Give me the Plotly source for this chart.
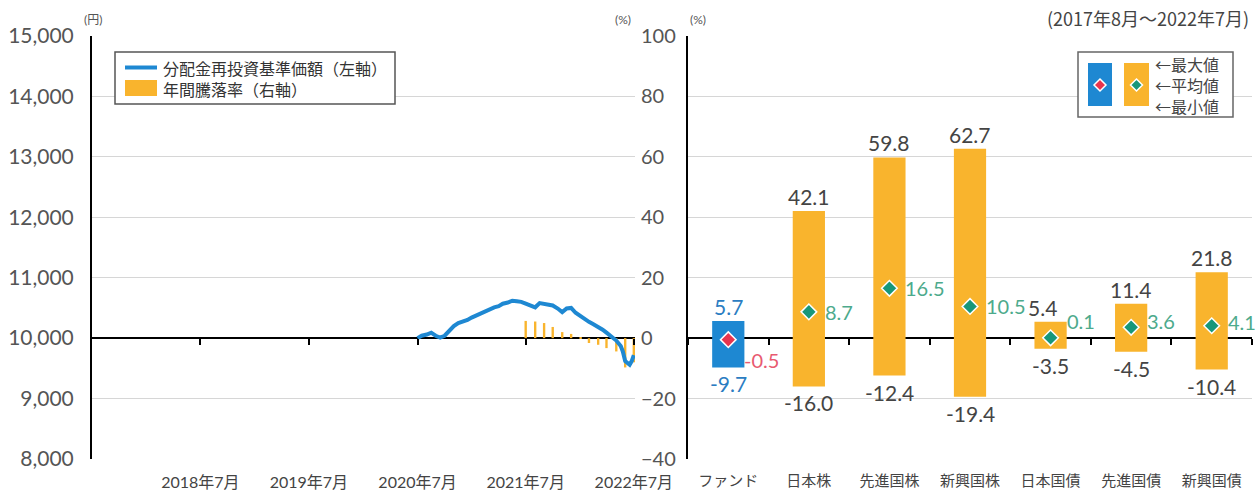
import plotly.graph_objects as go

W, H = 1259, 493
MT, MB = 36, 34
PH = H - MT - MB


def px(x):
    return x / W


def py(y):
    return (H - MB - y) / PH


# ---------------- data ----------------
nav_dates = [
    "2020-07-31", "2020-08-14", "2020-08-31", "2020-09-15", "2020-09-30", "2020-10-15",
    "2020-10-30", "2020-11-13", "2020-11-30", "2020-12-15", "2020-12-30", "2021-01-15",
    "2021-01-29", "2021-02-15", "2021-02-26", "2021-03-15", "2021-03-31", "2021-04-15",
    "2021-04-30", "2021-05-14", "2021-05-31", "2021-06-15", "2021-06-30", "2021-07-15",
    "2021-07-30", "2021-08-13", "2021-08-31", "2021-09-15", "2021-09-30", "2021-10-15",
    "2021-10-29", "2021-11-15", "2021-11-30", "2021-12-15", "2021-12-30", "2022-01-14",
    "2022-01-31", "2022-02-15", "2022-02-28", "2022-03-15", "2022-03-31", "2022-04-15",
    "2022-04-28", "2022-05-13", "2022-05-31", "2022-06-15", "2022-06-22", "2022-06-30",
    "2022-07-08", "2022-07-15", "2022-07-22", "2022-07-29",
]
nav_values = [
    10000, 10040, 10060, 10090, 10040, 10010,
    10040, 10120, 10200, 10250, 10270, 10300,
    10340, 10380, 10410, 10450, 10480, 10510,
    10530, 10570, 10590, 10620, 10610, 10600,
    10570, 10540, 10510, 10580, 10570, 10550,
    10540, 10490, 10430, 10490, 10500, 10420,
    10360, 10310, 10270, 10230, 10190, 10140,
    10090, 10040, 9960, 9870, 9780, 9620,
    9580, 9560, 9620, 9720,
]

ret_dates = [
    "2021-07-30", "2021-08-31", "2021-09-30", "2021-10-29", "2021-11-30", "2021-12-30",
    "2022-01-31", "2022-02-28", "2022-03-31", "2022-04-28", "2022-05-31", "2022-06-30",
    "2022-07-29",
]
ret_values = [5.7, 5.5, 5.0, 3.7, 2.0, 1.4, 0.3, -1.6, -2.2, -3.3, -4.4, -9.7, -8.0]

tick_dates = ["2018-07-31", "2019-07-31", "2020-07-31", "2021-07-30", "2022-07-29"]
tick_labels = ["2018年7月", "2019年7月", "2020年7月", "2021年7月", "2022年7月"]
yen_ticks = [8000, 9000, 10000, 11000, 12000, 13000, 14000, 15000]
pct_ticks = [-40, -20, 0, 20, 40, 60, 80, 100]

categories = ["ファンド", "日本株", "先進国株", "新興国株", "日本国債", "先進国債", "新興国債"]
max_vals = [5.7, 42.1, 59.8, 62.7, 5.4, 11.4, 21.8]
avg_vals = [-0.5, 8.7, 16.5, 10.5, 0.1, 3.6, 4.1]
min_vals = [-9.7, -16.0, -12.4, -19.4, -3.5, -4.5, -10.4]

legend_names = ["分配金再投資基準価額（左軸）", "年間騰落率（右軸）"]
key_names = ["←最大値", "←平均値", "←最小値"]

# ---------------- style ----------------
FONT = "Lato, 'Noto Sans CJK JP', sans-serif"
CJK = "'Noto Sans CJK JP', sans-serif"
BLUE = "#1E88D2"
ORANGE = "#F9B42D"
RED = "#E8344E"
GREEN = "#17977A"
GREEN_TXT = "#4DAA8C"
RED_TXT = "#E85A70"
BLUE_TXT = "#2B7DC2"
DARK = "#444444"
GRID = "#D6D6D6"
ZERO_POS = py(338)

max_dx = [0, 0, 0, 0, -8, 0, 0]
avg_dy = [-20, 0, 0, 0, 17, 6, 4]

fig = go.Figure()

# left chart
fig.add_trace(go.Scatter(
    x=nav_dates, y=nav_values, xaxis="x", yaxis="y3", mode="lines",
    line=dict(color=BLUE, width=4), name=legend_names[0], showlegend=False,
))
fig.add_trace(go.Bar(
    x=ret_dates, y=ret_values, xaxis="x", yaxis="y",
    marker=dict(color=ORANGE, line=dict(width=0)), width=8 * 86400000,
    name=legend_names[1], showlegend=False,
))
fig.add_trace(go.Scatter(
    x=tick_dates, y=[0] * len(tick_dates), xaxis="x3", yaxis="y", mode="markers",
    marker=dict(opacity=0), showlegend=False, hoverinfo="skip",
))

# right chart
fig.add_trace(go.Bar(
    x=categories, y=[mx - mn for mx, mn in zip(max_vals, min_vals)], base=min_vals,
    xaxis="x2", yaxis="y2", width=0.4,
    marker=dict(color=[BLUE] + [ORANGE] * (len(categories) - 1), line=dict(width=0)),
    showlegend=False,
))
fig.add_trace(go.Scatter(
    x=categories, y=avg_vals, xaxis="x2", yaxis="y2", mode="markers",
    marker=dict(symbol="diamond", size=12,
                color=[RED] + [GREEN] * (len(categories) - 1),
                line=dict(color="white", width=1.5)),
    showlegend=False,
))
fig.add_trace(go.Scatter(
    x=categories, y=[0] * len(categories), xaxis="x4", yaxis="y2", mode="markers",
    marker=dict(opacity=0), showlegend=False, hoverinfo="skip",
))

ann = []
for i, c in enumerate(categories):
    col_mm = BLUE_TXT if i == 0 else DARK
    ann.append(dict(x=c, y=max_vals[i], xref="x2", yref="y2", text=f"{max_vals[i]:.1f}",
                    showarrow=False, xanchor="center", yanchor="bottom", yshift=0,
                    xshift=max_dx[i], font=dict(size=21, color=col_mm)))
    ann.append(dict(x=c, y=min_vals[i], xref="x2", yref="y2", text=f"{min_vals[i]:.1f}",
                    showarrow=False, xanchor="center", yanchor="top", yshift=-2,
                    font=dict(size=21, color=col_mm)))
    ann.append(dict(x=c, y=avg_vals[i], xref="x2", yref="y2", text=f"{avg_vals[i]:.1f}",
                    showarrow=False, xanchor="left", yanchor="middle", xshift=14,
                    yshift=avg_dy[i],
                    font=dict(size=20, color=RED_TXT if i == 0 else GREEN_TXT)))

# units and period
ann += [
    dict(x=px(93), y=py(20), xref="paper", yref="paper", text="(円)", showarrow=False,
         xanchor="center", yanchor="middle", font=dict(size=12, color="#555")),
    dict(x=px(623), y=py(20), xref="paper", yref="paper", text="(%)", showarrow=False,
         xanchor="center", yanchor="middle", font=dict(size=12, color="#555")),
    dict(x=px(698), y=py(20), xref="paper", yref="paper", text="(%)", showarrow=False,
         xanchor="center", yanchor="middle", font=dict(size=12, color="#555")),
    dict(x=px(1251), y=py(18), xref="paper", yref="paper", text="(2017年8月～2022年7月)",
         showarrow=False, xanchor="right", yanchor="middle",
         font=dict(size=18, color=DARK, family=CJK)),
]

# legend of the left chart (box, swatches, labels)
shapes = [
    dict(type="rect", xref="paper", yref="paper", x0=px(115), x1=px(395),
         y0=py(104), y1=py(52), line=dict(color="#555", width=1.5), fillcolor="white",
         layer="above"),
    dict(type="line", xref="paper", yref="paper", x0=px(125), x1=px(157),
         y0=py(67.5), y1=py(67.5), line=dict(color=BLUE, width=4), layer="above"),
    dict(type="rect", xref="paper", yref="paper", x0=px(125), x1=px(157),
         y0=py(96), y1=py(80), line=dict(width=0), fillcolor=ORANGE, layer="above"),
]
ann.append(dict(x=px(161), y=py(78), xref="paper", yref="paper",
                text="<br>".join(legend_names), align="left",
                showarrow=False, xanchor="left", yanchor="middle",
                font=dict(size=16, color="#333", family=CJK)))

# key of the right chart
shapes += [
    dict(type="rect", xref="paper", yref="paper", x0=px(1078), x1=px(1233),
         y0=py(117), y1=py(52), line=dict(color="#666", width=1.5), fillcolor="white",
         layer="above"),
    dict(type="rect", xref="paper", yref="paper", x0=px(1088), x1=px(1112),
         y0=py(106), y1=py(63), line=dict(width=0), fillcolor=BLUE, layer="above"),
    dict(type="rect", xref="paper", yref="paper", x0=px(1124), x1=px(1149),
         y0=py(106), y1=py(63), line=dict(width=0), fillcolor=ORANGE, layer="above"),
]
for cx, col in [(1100, RED), (1136.5, GREEN)]:
    cy, r = 85, 6
    shapes.append(dict(
        type="path", xref="paper", yref="paper",
        path=f"M {px(cx)},{py(cy - r)} L {px(cx + r)},{py(cy)} L {px(cx)},{py(cy + r)} "
             f"L {px(cx - r)},{py(cy)} Z",
        fillcolor=col, line=dict(color="white", width=1.5), layer="above"))
ann.append(dict(x=px(1153), y=py(85), xref="paper", yref="paper",
                text="<br>".join(key_names), align="left",
                showarrow=False, xanchor="left", yanchor="middle",
                font=dict(size=16, color=DARK, family=CJK)))

x_range = ["2017-07-31", "2022-08-02"]

fig.update_layout(
    width=W, height=H,
    margin=dict(l=0, r=0, t=MT, b=MB, autoexpand=False),
    paper_bgcolor="white", plot_bgcolor="white",
    font=dict(family=FONT, color="#555"),
    barmode="overlay",
    showlegend=False,
    xaxis=dict(domain=[px(92), px(635)], type="date", range=x_range,
               tickvals=tick_dates, ticktext=tick_labels, showgrid=False,
               showline=False, zeroline=False, ticks="", anchor="y",
               tickfont=dict(size=16, color=DARK), ticklabelstandoff=12),
    yaxis=dict(domain=[0, 1], range=[-40, 100], tickvals=pct_ticks, side="right",
               showgrid=True, gridcolor=GRID, gridwidth=1, zeroline=True,
               zerolinecolor="black", zerolinewidth=2, showline=False, ticks="",
               anchor="x", tickfont=dict(size=20, color="#555"), ticklabelstandoff=5),
    yaxis3=dict(overlaying="y", side="left", range=[8000, 15000], tickvals=yen_ticks,
                tickformat=",d", showgrid=False, zeroline=False, showline=True,
                linecolor="black", linewidth=2, ticks="", anchor="x",
                tickfont=dict(size=21, color="#555"), ticklabelstandoff=12),
    xaxis3=dict(overlaying="x", anchor="free", position=ZERO_POS, type="date",
                range=x_range, tickvals=tick_dates, showticklabels=False, ticks="outside",
                ticklen=6, tickwidth=1.5, tickcolor="black", showgrid=False,
                zeroline=False, showline=False),
    xaxis2=dict(domain=[px(688), px(1252)], type="category", range=[-0.5, 6.5],
                categoryarray=categories, showgrid=False, showline=False, ticks="",
                anchor="y2", tickfont=dict(size=15, color=DARK), ticklabelstandoff=11),
    yaxis2=dict(domain=[0, 1], range=[-40, 100], tickvals=pct_ticks, anchor="x2",
                showticklabels=False, showgrid=True, gridcolor=GRID, gridwidth=1,
                zeroline=True, zerolinecolor="black", zerolinewidth=2,
                showline=True, linecolor="black", linewidth=2, ticks=""),
    xaxis4=dict(overlaying="x2", anchor="free", position=ZERO_POS, type="category",
                range=[-0.5, 6.5], categoryarray=categories, tickson="boundaries",
                showticklabels=False, ticks="outside", ticklen=6, tickwidth=1.5,
                tickcolor="black", showgrid=False, zeroline=False, showline=False),
    annotations=ann,
    shapes=shapes,
)

fig.write_html("out.html", config={"displayModeBar": False},
               post_script="document.body.style.margin='0px';")
